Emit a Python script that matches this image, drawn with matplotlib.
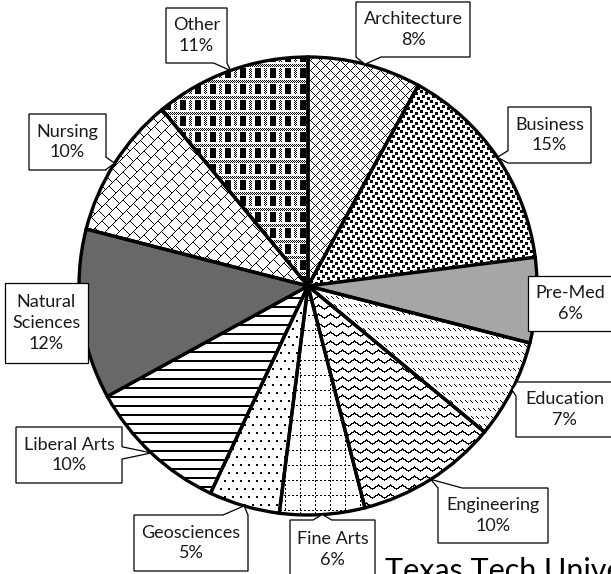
import numpy as np
import matplotlib
matplotlib.use("Agg")
import matplotlib.pyplot as plt
from matplotlib.patches import Polygon

categories = ["Architecture", "Business", "Pre-Med", "Education", "Engineering",
              "Fine Arts", "Geosciences", "Liberal Arts", "Natural\nSciences",
              "Nursing", "Other"]
shares = [8, 15, 6, 7, 10, 6, 5, 10, 12, 10, 11]

# fill style for each slice: a pattern name or a solid grey
fills = ["diamond", "confetti", "#a6a6a6", "dashdiag", "wave", "dotgrid",
         "dots", "hlines", "#686868", "brick", "plaid"]

# callout boxes in pixels (left, top, right, bottom), y counted from the top
boxes = [(356, 2, 470, 57), (508, 107, 591, 163), (528, 276, 613, 331),
         (516, 382, 613, 437), (438, 488, 548, 543), (290, 520, 375, 579),
         (134, 515, 248, 571), (16, 427, 122, 483), (5, 283, 88, 363),
         (29, 114, 106, 170), (166, 8, 227, 63)]

W, H = 611, 574
CX, CY, R = 308, H - 286, 229

plt.rcParams['font.family'] = ['Lato', 'DejaVu Sans']


def pattern(name):
    Y, X = np.mgrid[0:H, 0:W]
    if name == "diamond":
        return ((X + Y) % 10 == 0) | ((X - Y) % 10 == 0)
    if name == "confetti":
        m = np.zeros((H, W), bool)
        for ox, oy in [(0, 0), (5, 2), (2, 5), (7, 7)]:
            m |= ((X - ox) % 10 < 3) & ((Y - oy) % 10 < 3)
        return m
    if name == "dashdiag":
        return (Y % 8 < 3) & ((X - Y) % 5 == 0)
    if name == "wave":
        tri = np.abs((X % 12) - 6) / 6 * 4 - 2
        return ((Y - tri) % 9) < 1.5
    if name == "dotgrid":
        return ((Y % 15 == 0) & (X % 4 < 2)) | ((X % 15 == 0) & (Y % 4 < 2))
    if name == "dots":
        return (Y % 8 < 2) & ((X + 4 * ((Y // 8) % 2)) % 8 < 2)
    if name == "hlines":
        return Y % 9 < 2
    if name == "brick":
        u, v = X + Y, X - Y
        strip = u // 14
        return (u % 14 == 0) | ((v - 7 * (strip % 2)) % 14 == 0)
    if name == "plaid":
        block = (X % 15 < 6) & (Y % 16 >= 4) & (Y % 16 < 14)
        band = (Y % 16 < 3) & ((X + Y) % 2 == 0)
        col = (X % 15 >= 9) & (X % 15 < 12) & (Y % 16 >= 4) & (Y % 16 < 14) & ((X + Y) % 2 == 0)
        return block | band | col
    return np.zeros((H, W), bool)


def callout(box, tip, bw_frac=0.22):
    x0, t, x1, b = box
    yt, yb = H - t, H - b
    tx, ty = tip
    rect = [(x0, yt), (x1, yt), (x1, yb), (x0, yb)]
    if x0 <= tx <= x1 and yb <= ty <= yt:
        return rect
    cx, cy = (x0 + x1) / 2, (yt + yb) / 2
    dx, dy = (tx - cx) / ((x1 - x0) / 2), (ty - cy) / ((yt - yb) / 2)
    if abs(dx) >= abs(dy):
        bw = max(10, bw_frac * (yt - yb))
        p = min(max(ty, yb + bw / 2), yt - bw / 2)
        if dx > 0:
            pts = [(x0, yt), (x1, yt), (x1, p + bw / 2), (tx, ty), (x1, p - bw / 2),
                   (x1, yb), (x0, yb)]
        else:
            pts = [(x0, yt), (x1, yt), (x1, yb), (x0, yb), (x0, p - bw / 2), (tx, ty),
                   (x0, p + bw / 2)]
    else:
        bw = max(10, bw_frac * (x1 - x0))
        p = min(max(tx, x0 + bw / 2), x1 - bw / 2)
        if dy > 0:
            pts = [(x0, yt), (p - bw / 2, yt), (tx, ty), (p + bw / 2, yt), (x1, yt),
                   (x1, yb), (x0, yb)]
        else:
            pts = [(x0, yt), (x1, yt), (x1, yb), (p + bw / 2, yb), (tx, ty),
                   (p - bw / 2, yb), (x0, yb)]
    return pts


fig = plt.figure(figsize=(W / 100, H / 100), dpi=100)
ax = fig.add_axes([0, 0, 1, 1])

wedges, _ = ax.pie(shares, startangle=90, counterclock=False, center=(CX, CY), radius=R,
                   wedgeprops=dict(edgecolor="black", linewidth=2.4, zorder=3))

for w, f in zip(wedges, fills):
    if f.startswith("#"):
        w.set_facecolor(f)
    else:
        w.set_facecolor("none")
        m = pattern(f)
        img = np.where(m, 0.0, 1.0)
        im = ax.imshow(img, cmap="gray", vmin=0, vmax=1, extent=(0, W, 0, H),
                       interpolation="nearest", origin="upper", zorder=2)
        im.set_clip_path(w)

for w, name, val, box in zip(wedges, categories, shares, boxes):
    mid = np.deg2rad((w.theta1 + w.theta2) / 2)
    tip = (CX + R * np.cos(mid), CY + R * np.sin(mid))
    ax.add_patch(Polygon(callout(box, tip), closed=True, facecolor="white",
                         edgecolor="black", linewidth=0.9, zorder=5))
    x0, t, x1, b = box
    ax.text((x0 + x1) / 2, H - (t + b) / 2, f"{name}\n{val}%", ha="center", va="center",
            fontsize=13, linespacing=1.35, color="#1a1a1a", zorder=6)

ax.text(385, H - 580, "Texas Tech University", fontsize=22, ha="left", va="baseline",
        color="black", zorder=6)

ax.set_xlim(0, W)
ax.set_ylim(0, H)
ax.set_aspect("auto")
ax.axis("off")

fig.savefig("out.png", dpi=100)
